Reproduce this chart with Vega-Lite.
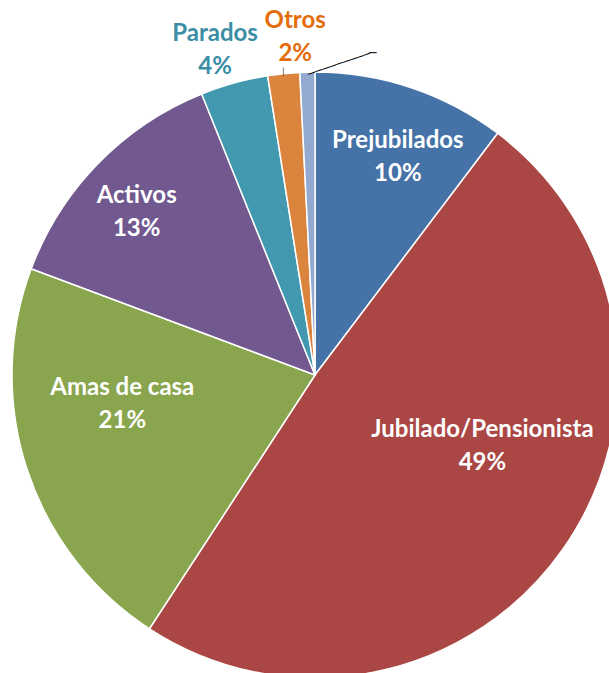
{
  "$schema": "https://vega.github.io/schema/vega-lite/v6.json",
  "width": 588,
  "height": 596,
  "autosize": {"type": "none"},
  "padding": {"left": 21, "top": 77, "right": 0, "bottom": 0},
  "background": "white",
  "config": {"view": {"stroke": null}},
  "data": {
    "values": [
      {"category": "Prejubilados", "value": 10.3, "label": "10%", "idx": 1},
      {"category": "Jubilado/Pensionista", "value": 48.9, "label": "49%", "idx": 2},
      {"category": "Amas de casa", "value": 21.5, "label": "21%", "idx": 3},
      {"category": "Activos", "value": 13.2, "label": "13%", "idx": 4},
      {"category": "Parados", "value": 3.6, "label": "4%", "idx": 5},
      {"category": "Otros", "value": 1.7, "label": "2%", "idx": 6},
      {"category": "NS/NC", "value": 0.8, "label": "", "idx": 7}
    ]
  },
  "transform": [
    {"stack": "value", "groupby": [], "sort": [{"field": "idx", "order": "ascending"}], "as": ["v0", "v1"]},
    {"calculate": "(datum.v0 + datum.v1) / 2", "as": "vm"},
    {"calculate": "datum.label === '' ? '' : datum.category + '\\n' + datum.label", "as": "txt"}
  ],
  "layer": [
    {
      "mark": {"type": "arc", "outerRadius": 303, "stroke": "white", "strokeWidth": 1.5},
      "encoding": {
        "theta": {"field": "v0", "type": "quantitative", "scale": {"domain": [0, 100]}},
        "theta2": {"field": "v1"},
        "color": {
          "field": "category",
          "type": "nominal",
          "scale": {
            "domain": ["Prejubilados", "Jubilado/Pensionista", "Amas de casa", "Activos", "Parados", "Otros", "NS/NC"],
            "range": ["#4572A7", "#AA4643", "#89A54E", "#71588F", "#4198AF", "#DB843D", "#93A9CF"]
          },
          "legend": null
        }
      }
    },
    {
      "transform": [{"filter": "datum.category === 'Prejubilados'"}],
      "mark": {"type": "text", "radius": 233, "thetaOffset": 0.04, "dy": -16.5, "font": "Lato", "fontSize": 24, "fontWeight": "bold", "fill": "white", "lineBreak": "\n", "lineHeight": 33, "align": "center", "baseline": "middle"},
      "encoding": {"theta": {"field": "vm", "type": "quantitative"}, "text": {"field": "txt"}}
    },
    {
      "transform": [{"filter": "datum.category === 'Jubilado/Pensionista'"}],
      "mark": {"type": "text", "radius": 182, "thetaOffset": -0.21, "dy": -16.5, "font": "Lato", "fontSize": 24, "fontWeight": "bold", "fill": "white", "lineBreak": "\n", "lineHeight": 33, "align": "center", "baseline": "middle"},
      "encoding": {"theta": {"field": "vm", "type": "quantitative"}, "text": {"field": "txt"}}
    },
    {
      "transform": [{"filter": "datum.category === 'Amas de casa'"}],
      "mark": {"type": "text", "radius": 195, "thetaOffset": 0.164, "dy": -16.5, "font": "Lato", "fontSize": 24, "fontWeight": "bold", "fill": "white", "lineBreak": "\n", "lineHeight": 33, "align": "center", "baseline": "middle"},
      "encoding": {"theta": {"field": "vm", "type": "quantitative"}, "text": {"field": "txt"}}
    },
    {
      "transform": [{"filter": "datum.category === 'Activos'"}],
      "mark": {"type": "text", "radius": 241, "thetaOffset": -0.035, "dy": -16.5, "font": "Lato", "fontSize": 24, "fontWeight": "bold", "fill": "white", "lineBreak": "\n", "lineHeight": 33, "align": "center", "baseline": "middle"},
      "encoding": {"theta": {"field": "vm", "type": "quantitative"}, "text": {"field": "txt"}}
    },
    {
      "transform": [{"filter": "datum.category === 'Parados'"}],
      "mark": {"type": "text", "radius": 340, "thetaOffset": -0.028, "dy": -16.5, "font": "Lato", "fontSize": 24, "fontWeight": "bold", "fill": "#3B8EA5", "lineBreak": "\n", "lineHeight": 33, "align": "center", "baseline": "middle"},
      "encoding": {"theta": {"field": "vm", "type": "quantitative"}, "text": {"field": "txt"}}
    },
    {
      "transform": [{"filter": "datum.category === 'Otros'"}],
      "mark": {"type": "text", "radius": 338, "thetaOffset": 0.045, "dy": -16.5, "font": "Lato", "fontSize": 24, "fontWeight": "bold", "fill": "#E46C0A", "lineBreak": "\n", "lineHeight": 33, "align": "center", "baseline": "middle"},
      "encoding": {"theta": {"field": "vm", "type": "quantitative"}, "text": {"field": "txt"}}
    },
    {
      "transform": [{"filter": "datum.category === 'Otros'"}],
      "mark": {"type": "text", "radius": 305, "text": "│", "font": "DejaVu Sans Mono", "fontSize": 7, "fill": "black", "align": "center", "baseline": "middle"},
      "encoding": {"theta": {"field": "vm", "type": "quantitative"}}
    },
    {
      "transform": [{"filter": "datum.category === 'NS/NC'"}],
      "mark": {"type": "text", "radius": 312, "thetaOffset": 0.102, "angle": 341.3, "text": "─────────", "font": "DejaVu Sans Mono", "fontSize": 12, "fill": "black", "align": "center", "baseline": "middle"},
      "encoding": {"theta": {"field": "vm", "type": "quantitative"}}
    },
    {
      "transform": [{"filter": "datum.category === 'NS/NC'"}],
      "mark": {"type": "text", "radius": 327, "thetaOffset": 0.203, "text": "─", "font": "DejaVu Sans Mono", "fontSize": 12, "fill": "black", "align": "center", "baseline": "middle"},
      "encoding": {"theta": {"field": "vm", "type": "quantitative"}}
    }
  ]
}
